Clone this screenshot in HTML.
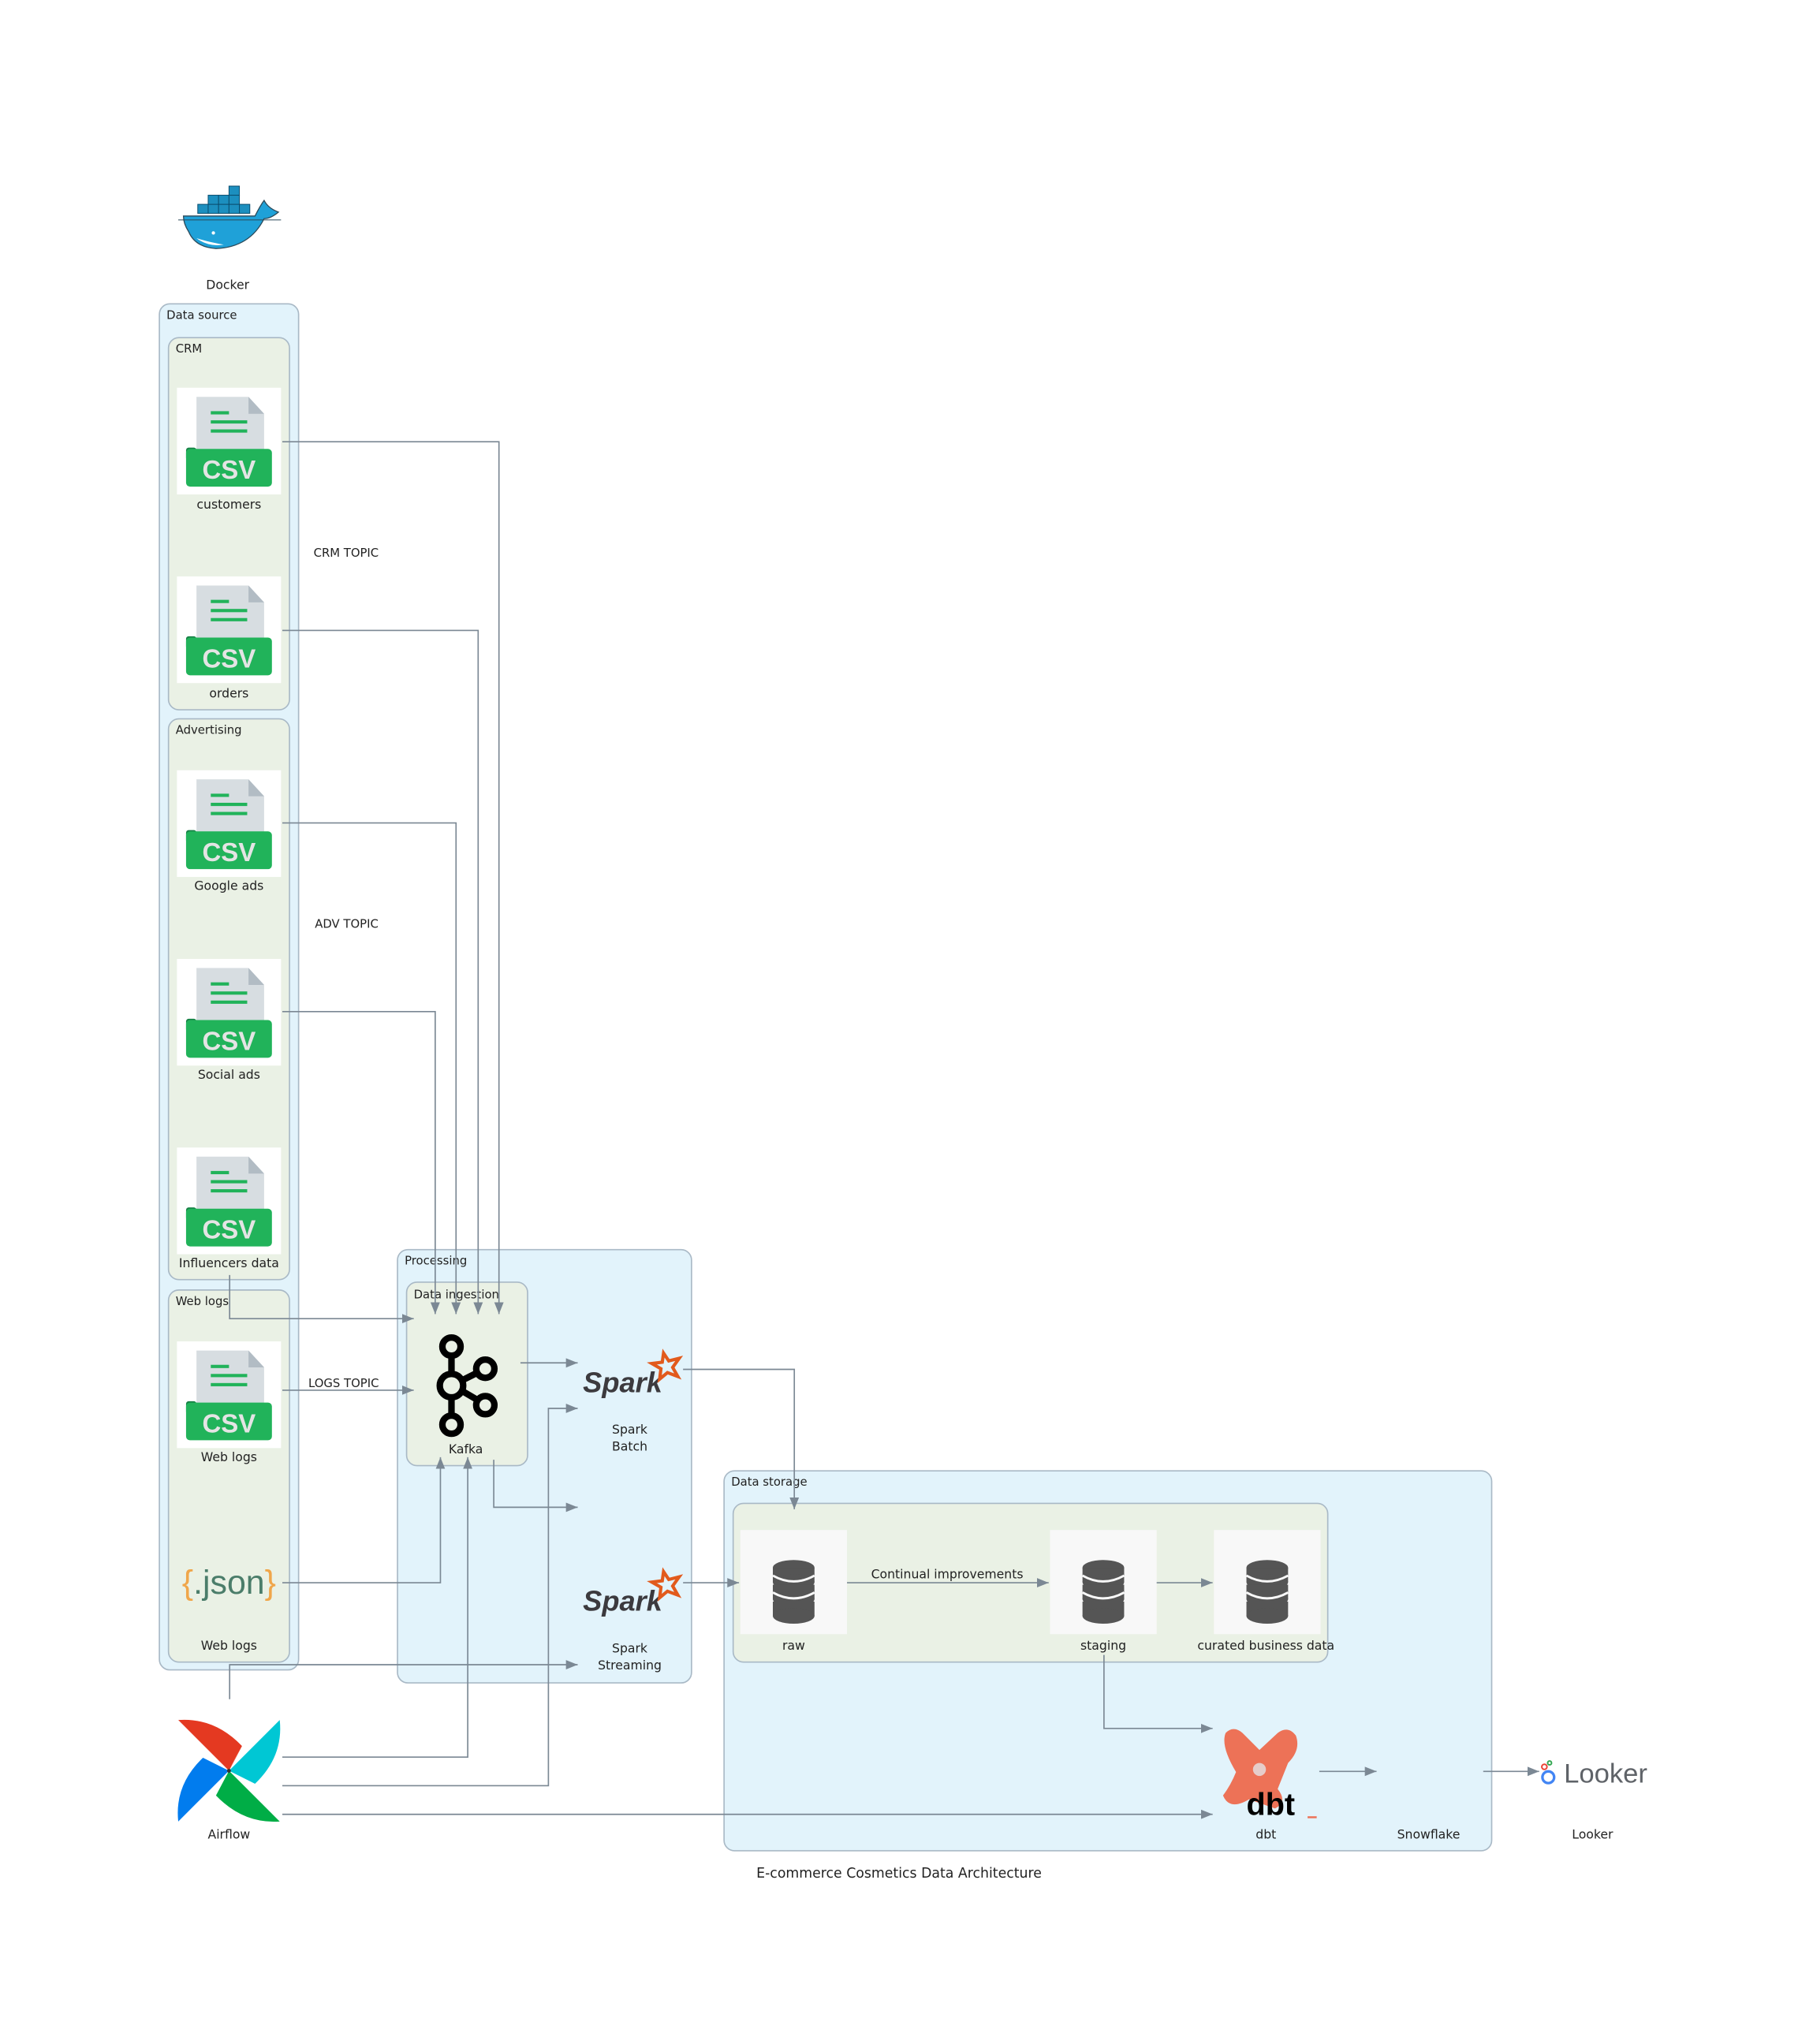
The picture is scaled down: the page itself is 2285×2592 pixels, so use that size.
<!DOCTYPE html>
<html><head><meta charset="utf-8"><style>
html,body{margin:0;padding:0;background:#fff;}
svg{display:block;}
text{font-family:"DejaVu Sans","Liberation Sans",sans-serif;fill:#222;}
</style></head><body>
<svg width="2285" height="2592" viewBox="0 0 1385 1571" xmlns="http://www.w3.org/2000/svg">
<defs>
<marker id="a" viewBox="0 0 10 10" refX="10" refY="5" markerWidth="9" markerHeight="9" markerUnits="userSpaceOnUse" orient="auto"><path d="M0,1 L10,5 L0,9 z" fill="#7b8894"/></marker>
<g id="csv">
<rect x="0" y="0" width="80" height="82" fill="#fff"/>
<path d="M15,7 H55 L67,20 V50 H15 Z" fill="#d7dde1"/>
<path d="M55,7 L67,20 H55 Z" fill="#b2bcc4"/>
<rect x="26" y="18" width="14" height="2.5" fill="#21b35a"/>
<rect x="26" y="25" width="28" height="2.5" fill="#21b35a"/>
<rect x="26" y="32" width="28" height="2.5" fill="#21b35a"/>
<rect x="7" y="46" width="8" height="10" rx="2" fill="#168045"/>
<rect x="7" y="47" width="66" height="29" rx="3" fill="#21b35a"/>
<text x="40" y="70" text-anchor="middle" style="font-family:'Liberation Sans',sans-serif;font-weight:bold;font-size:20px;fill:#e4e4e4">CSV</text>
</g>
<g id="db">
<rect x="0" y="0" width="82" height="80" fill="#f8f8f8"/>
<g fill="#555">
<ellipse cx="41" cy="29" rx="16" ry="6"/>
<rect x="25" y="29" width="32" height="11"/>
<ellipse cx="41" cy="40" rx="16" ry="6"/>
<rect x="25" y="42" width="32" height="11"/>
<ellipse cx="41" cy="53" rx="16" ry="6"/>
<rect x="25" y="55" width="32" height="11"/>
<ellipse cx="41" cy="66" rx="16" ry="6"/>
</g>
<g fill="none" stroke="#f8f8f8" stroke-width="1.8">
<path d="M25,35 Q41,44 57,35"/><path d="M25,48 Q41,57 57,48"/>
</g>
</g>
<g id="spark">
<text x="0" y="30" style="font-family:'Liberation Sans',sans-serif;font-style:italic;font-weight:bold;font-size:22px;fill:#3c3a3e">Spark</text>
<path d="M62,0 l4,6 l8,-2 l-5,7 l4,7 l-8,-3 l-6,5 l1,-8 l-7,-4 l8,-1 z" fill="none" stroke="#e25a1c" stroke-width="2.5"/>
</g>
</defs>

<rect x="122.5" y="233.5" width="107" height="1050" rx="8" fill="#e2f3fb" stroke="#a9b9c6"/>
<text x="128" y="245" style="font-size:9px">Data source</text>
<rect x="129.5" y="259.5" width="93" height="286" rx="8" fill="#eaf1e5" stroke="#a9b9c6"/>
<text x="135" y="271" style="font-size:9px">CRM</text>
<rect x="129.5" y="552.5" width="93" height="431" rx="8" fill="#eaf1e5" stroke="#a9b9c6"/>
<text x="135" y="564" style="font-size:9px">Advertising</text>
<rect x="129.5" y="991.5" width="93" height="286" rx="8" fill="#eaf1e5" stroke="#a9b9c6"/>
<text x="135" y="1003" style="font-size:9px">Web logs</text>

<rect x="305.5" y="960.5" width="226" height="333" rx="8" fill="#e2f3fb" stroke="#a9b9c6"/>
<text x="311" y="972" style="font-size:9px">Processing</text>
<rect x="312.5" y="985.5" width="93" height="141" rx="8" fill="#eaf1e5" stroke="#a9b9c6"/>
<text x="318" y="998" style="font-size:9px">Data ingestion</text>

<rect x="556.5" y="1130.5" width="590" height="292" rx="8" fill="#e2f3fb" stroke="#a9b9c6"/>
<text x="562" y="1142" style="font-size:9px">Data storage</text>
<rect x="563.5" y="1155.5" width="457" height="122" rx="8" fill="#eaf1e5" stroke="#a9b9c6"/>

<g>
<g fill="#1c8fbf" stroke="#0a4d6e" stroke-width="0.6">
<rect x="152" y="157" width="8" height="7"/><rect x="160" y="157" width="8" height="7"/><rect x="168" y="157" width="8" height="7"/><rect x="176" y="157" width="8" height="7"/><rect x="184" y="157" width="8" height="7"/>
<rect x="160" y="150" width="8" height="7"/><rect x="168" y="150" width="8" height="7"/><rect x="176" y="150" width="8" height="7"/>
<rect x="176" y="143" width="8" height="7"/>
</g>
<path d="M141,166 H196 Q200,158 203,154 Q206,160 214,163 Q208,168 203,168 Q192,190 166,191 Q150,190 145,178 Q141,172 141,166 Z" fill="#1fa1d8" stroke="#2b4a5a" stroke-width="0.8"/>
<path d="M151,183 Q160,190 172,188 Q160,186 151,183Z" fill="#fff"/>
<circle cx="164" cy="179" r="1.3" fill="#fff"/>
<path d="M137,169 H216" stroke="#2b4a5a" stroke-width="0.6"/>
</g>
<text x="175" y="222" text-anchor="middle" style="font-size:9.5px">Docker</text>

<use href="#csv" x="136" y="298"/><text x="176" y="391" text-anchor="middle" style="font-size:9.5px">customers</text>
<use href="#csv" x="136" y="443"/><text x="176" y="536" text-anchor="middle" style="font-size:9.5px">orders</text>
<use href="#csv" x="136" y="592"/><text x="176" y="684" text-anchor="middle" style="font-size:9.5px">Google ads</text>
<use href="#csv" x="136" y="737"/><text x="176" y="829" text-anchor="middle" style="font-size:9.5px">Social ads</text>
<use href="#csv" x="136" y="882"/><text x="176" y="974" text-anchor="middle" style="font-size:9.5px">Influencers data</text>
<use href="#csv" x="136" y="1031"/><text x="176" y="1123" text-anchor="middle" style="font-size:9.5px">Web logs</text>
<text x="176" y="1225" text-anchor="middle" style="font-family:'Liberation Sans',sans-serif;font-size:26px"><tspan style="fill:#f0a64a">{</tspan><tspan style="fill:#4b7d6a">.json</tspan><tspan style="fill:#f0a64a">}</tspan></text>
<text x="176" y="1268" text-anchor="middle" style="font-size:9.5px">Web logs</text>

<text x="241" y="428" style="font-size:9px">CRM TOPIC</text>
<text x="242" y="713" style="font-size:9px">ADV TOPIC</text>
<text x="237" y="1066" style="font-size:9px">LOGS TOPIC</text>

<g fill="none" stroke="#000" stroke-width="5">
<circle cx="347" cy="1035" r="7"/>
<circle cx="347" cy="1065" r="9"/>
<circle cx="347" cy="1095" r="7"/>
<circle cx="373" cy="1052" r="7"/>
<circle cx="373" cy="1080" r="7"/>
<path d="M347,1042 V1056 M347,1074 V1088 M355,1061 L367,1055 M355,1069 L367,1076"/>
</g>
<text x="358" y="1117" text-anchor="middle" style="font-size:9.5px">Kafka</text>

<use href="#spark" x="448" y="1040"/>
<text x="484" y="1102" text-anchor="middle" style="font-size:9.5px">Spark</text>
<text x="484" y="1115" text-anchor="middle" style="font-size:9.5px">Batch</text>
<use href="#spark" x="448" y="1208"/>
<text x="484" y="1270" text-anchor="middle" style="font-size:9.5px">Spark</text>
<text x="484" y="1283" text-anchor="middle" style="font-size:9.5px">Streaming</text>

<use href="#db" x="569" y="1176"/><text x="610" y="1268" text-anchor="middle" style="font-size:9.5px">raw</text>
<use href="#db" x="807" y="1176"/><text x="848" y="1268" text-anchor="middle" style="font-size:9.5px">staging</text>
<use href="#db" x="933" y="1176"/><text x="973" y="1268" text-anchor="middle" style="font-size:9.5px">curated business data</text>
<text x="728" y="1213" text-anchor="middle" style="font-size:9.5px">Continual improvements</text>

<path d="M942,1332 Q948,1326 955,1332 L968,1345 L982,1332 Q990,1326 996,1334 Q1000,1345 990,1355 L982,1375 Q990,1385 980,1390 L960,1383 Q945,1392 940,1380 Q946,1372 950,1362 Q938,1342 942,1332 Z" fill="#ed7257"/>
<circle cx="968" cy="1360" r="5" fill="#e2f3fb" opacity="0.7"/>
<text x="958" y="1395" style="font-family:'Liberation Sans',sans-serif;font-weight:bold;font-size:24px;fill:#000">dbt</text>
<rect x="1005" y="1396" width="7" height="1.5" fill="#ed7257"/>
<text x="973" y="1413" text-anchor="middle" style="font-size:9.5px">dbt</text>
<text x="1098" y="1413" text-anchor="middle" style="font-size:9.5px">Snowflake</text>

<circle cx="1190" cy="1366" r="4.5" fill="none" stroke="#4285f4" stroke-width="2"/>
<circle cx="1187" cy="1358" r="2" fill="none" stroke="#ea4335" stroke-width="1.2"/>
<circle cx="1191" cy="1355" r="1.5" fill="none" stroke="#34a853" stroke-width="1.2"/>
<text x="1202" y="1370" style="font-family:'Liberation Sans',sans-serif;font-size:21px;fill:#5f6368">Looker</text>
<text x="1224" y="1413" text-anchor="middle" style="font-size:9.5px">Looker</text>

<g>
<path d="M176,1361 L137,1322 Q165,1320 186,1342 Z" fill="#e43921"/>
<path d="M176,1361 L215,1322 Q218,1350 196,1371 Z" fill="#00c7d4"/>
<path d="M176,1361 L215,1400 Q187,1402 166,1380 Z" fill="#00ad46"/>
<path d="M176,1361 L137,1400 Q134,1372 156,1351 Z" fill="#017cee"/>
<path d="M176,1361 L186,1342 Q180,1352 176,1361Z" fill="#ff7557"/>
<circle cx="176" cy="1361" r="1.5" fill="#333"/>
</g>
<text x="176" y="1413" text-anchor="middle" style="font-size:9.5px">Airflow</text>

<text x="691" y="1443" text-anchor="middle" style="font-size:10.5px">E-commerce Cosmetics Data Architecture</text>

<g fill="none" stroke="#7b8894" stroke-width="1" marker-end="url(#a)">
<path d="M217,339.5 H383.5 V1010"/>
<path d="M217,484.5 H367.5 V1010"/>
<path d="M217,632.5 H350.5 V1010"/>
<path d="M217,777.5 H334.5 V1010"/>
<path d="M176.5,980 V1013.5 H318"/>
<path d="M217,1068.5 H318"/>
<path d="M217,1216.5 H338.5 V1120"/>
<path d="M400,1047.5 H444"/>
<path d="M379.5,1122 V1158.5 H444"/>
<path d="M525,1052.5 H610.5 V1160"/>
<path d="M525,1216.5 H568"/>
<path d="M176.5,1306 V1279.5 H444"/>
<path d="M217,1350.5 H359.5 V1120"/>
<path d="M217,1372.5 H421.5 V1082.5 H444"/>
<path d="M217,1394.5 H932"/>
<path d="M651,1216.5 H806"/>
<path d="M889,1216.5 H932"/>
<path d="M848.5,1272 V1328.5 H932"/>
<path d="M1014,1361.5 H1058"/>
<path d="M1140,1361.5 H1183"/>
</g>
</svg>
</body></html>
